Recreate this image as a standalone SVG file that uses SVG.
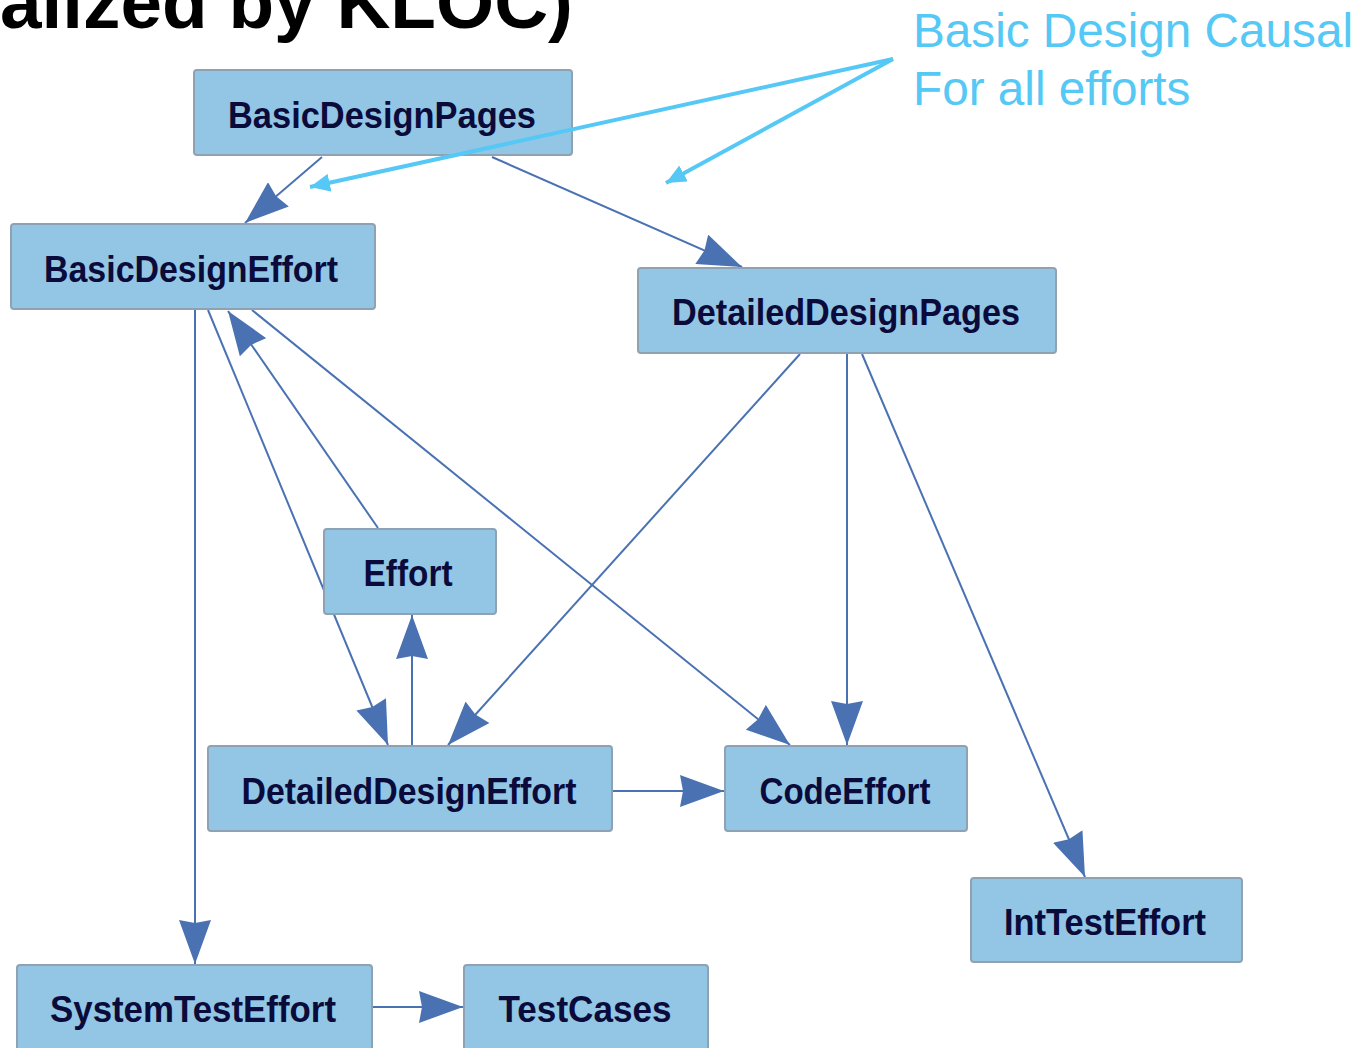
<svg xmlns="http://www.w3.org/2000/svg" width="1360" height="1048" viewBox="0 0 1360 1048">
<style>
.node rect{fill:#93C6E4;stroke:#8FA2B3;stroke-width:2}
.node text{font-family:"Liberation Sans",Arial,sans-serif;font-weight:bold;font-size:36px;fill:#0B0B3B;text-anchor:middle}
.edge{stroke:#4A72B2;stroke-width:2;fill:none;marker-end:url(#arr)}
.ann{stroke:#55C8F5;stroke-width:4;fill:none}
.anntext{font-family:"Liberation Sans",Arial,sans-serif;font-size:47.7px;fill:#55C8F5}
</style>
<defs>
<marker id="arr" viewBox="0 0 44 32" refX="44" refY="16" markerWidth="44" markerHeight="32" markerUnits="userSpaceOnUse" orient="auto">
<path d="M0,0 L44,16 L0,32 L3,16 Z" fill="#4A72B2"/>
</marker>
<marker id="annarr" viewBox="0 0 20 18" refX="20" refY="9" markerWidth="20" markerHeight="18" markerUnits="userSpaceOnUse" orient="auto">
<path d="M0,0 L20,9 L0,18 Z" fill="#55C8F5"/>
</marker>
</defs>
<rect width="1360" height="1048" fill="#ffffff"/>
<text x="0" y="28" font-family="Liberation Sans,Arial,sans-serif" font-weight="bold" font-size="75" fill="#000000" textLength="573" lengthAdjust="spacingAndGlyphs">alized by KLOC)</text>

<g id="connectors">
<line class="edge" x1="322" y1="157" x2="245" y2="223"/>
<line class="edge" x1="492" y1="157" x2="742" y2="267"/>
<line class="edge" x1="195" y1="310" x2="195" y2="964"/>
<line class="edge" x1="208" y1="310" x2="388" y2="745"/>
<line class="edge" x1="378" y1="528" x2="228" y2="311"/>
<line class="edge" x1="252" y1="310" x2="790" y2="745"/>
<line class="edge" x1="800" y1="354" x2="448" y2="745"/>
<line class="edge" x1="847" y1="354" x2="847" y2="745"/>
<line class="edge" x1="862" y1="354" x2="1085" y2="877"/>
<line class="edge" x1="412" y1="745" x2="412" y2="615"/>
<line class="edge" x1="613" y1="791" x2="724" y2="791"/>
<line class="edge" x1="373" y1="1007" x2="463" y2="1007"/>
</g>

<g id="BasicDesignPages" class="node"><rect x="194" y="70" width="378" height="85" rx="3"/><text x="382" y="128" textLength="308" lengthAdjust="spacingAndGlyphs">BasicDesignPages</text></g>
<g id="BasicDesignEffort" class="node"><rect x="11" y="224" width="364" height="85" rx="3"/><text x="191" y="282" textLength="294" lengthAdjust="spacingAndGlyphs">BasicDesignEffort</text></g>
<g id="DetailedDesignPages" class="node"><rect x="638" y="268" width="418" height="85" rx="3"/><text x="846" y="325" textLength="348" lengthAdjust="spacingAndGlyphs">DetailedDesignPages</text></g>
<g id="Effort" class="node"><rect x="324" y="529" width="172" height="85" rx="3"/><text x="408" y="586" textLength="89" lengthAdjust="spacingAndGlyphs">Effort</text></g>
<g id="DetailedDesignEffort" class="node"><rect x="208" y="746" width="404" height="85" rx="3"/><text x="409" y="804" textLength="335" lengthAdjust="spacingAndGlyphs">DetailedDesignEffort</text></g>
<g id="CodeEffort" class="node"><rect x="725" y="746" width="242" height="85" rx="3"/><text x="845" y="804" textLength="171" lengthAdjust="spacingAndGlyphs">CodeEffort</text></g>
<g id="IntTestEffort" class="node"><rect x="971" y="878" width="271" height="84" rx="3"/><text x="1105" y="935" textLength="202" lengthAdjust="spacingAndGlyphs">IntTestEffort</text></g>
<g id="SystemTestEffort" class="node"><rect x="17" y="965" width="355" height="86" rx="3"/><text x="193" y="1022" textLength="286" lengthAdjust="spacingAndGlyphs">SystemTestEffort</text></g>
<g id="TestCases" class="node"><rect x="464" y="965" width="244" height="86" rx="3"/><text x="585" y="1022" textLength="173" lengthAdjust="spacingAndGlyphs">TestCases</text></g>

<g id="annotation">
<line class="ann" x1="893" y1="59" x2="310" y2="187" marker-end="url(#annarr)"/>
<line class="ann" x1="893" y1="59" x2="666" y2="183" marker-end="url(#annarr)"/>
<text class="anntext" x="913" y="47">Basic Design Causal</text>
<text class="anntext" x="913" y="105">For all efforts</text>
</g>
</svg>
